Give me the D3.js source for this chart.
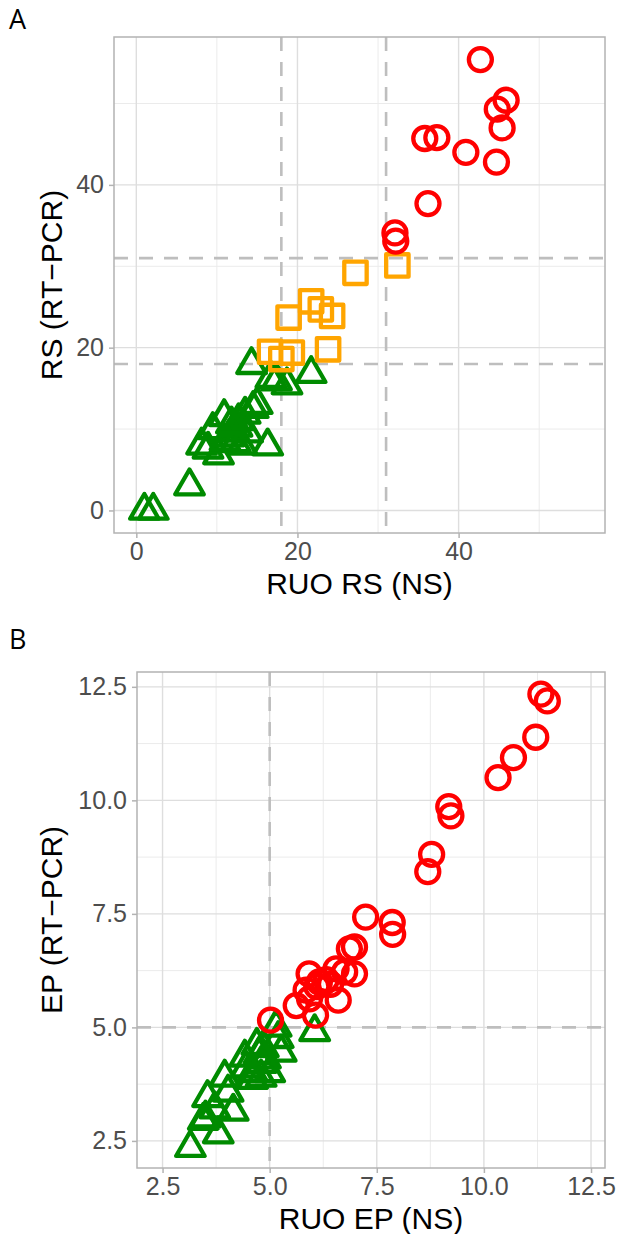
<!DOCTYPE html>
<html>
<head>
<meta charset="utf-8">
<script src="https://cdn.jsdelivr.net/npm/d3@7"></script>
<style>
  body { margin: 0; background: #fff; }
  text { font-family: "Liberation Sans", Arial, sans-serif; }
</style>
</head>
<body>
<script>
// ---- data: panel A (risk score) ----
var rsHigh = [[42.7,55.4],[45.9,50.4],[44.8,49.3],[45.4,47.0],[35.8,45.7],[37.3,45.8],
              [40.9,44.0],[44.7,42.8],[36.2,37.7],[32.1,34.1],[32.2,33.1]];
var rsMid = [[32.4,30.1],[27.2,29.2],[21.7,25.7],[22.9,24.7],[24.3,23.9],[18.9,23.7],
             [23.8,19.8],[19.3,19.4],[16.6,19.5],[18.0,18.6]];
var rsLow = [[1.0,0.0],[2.1,0.0],[6.6,3.0],[8.1,8.0],[8.9,7.5],[10.2,6.8],[9.5,9.9],
             [10.9,11.5],[12.7,11.0],[13.5,11.8],[14.5,12.5],[13.1,8.0],[16.3,7.9],
             [11.5,9.0],[12.0,9.6],[12.5,10.2],[11.0,8.5],[12.3,8.3],[13.8,9.5],
             [14.3,17.9],[16.7,16.2],[17.4,15.9],[18.7,15.4],[21.7,16.8],[15.0,13.0],[11.8,10.6]];
var rsLimits = [0, 55.4];
var rsTicks = [0, 20, 40];
var rsMinor = [10, 30, 50];
var rsCuts = [18, 31];

// ---- data: panel B (EP) ----
var epHigh = [[11.33,12.34],[11.48,12.19],[11.21,11.39],[10.69,10.94],[10.33,10.50],
              [9.18,9.86],[9.23,9.66],[8.78,8.81],[8.69,8.43],[7.24,7.43],[7.86,7.31],
              [7.87,7.05],[6.98,6.77],[6.86,6.73],[6.75,6.22],[6.98,6.18],[6.55,6.29],
              [6.60,5.60],[5.92,6.18],[6.32,6.05],[6.16,6.00],[5.85,5.82],[5.93,5.63],
              [5.62,5.48],[6.07,5.27],[5.02,5.16],[6.10,5.90],[6.42,5.95]];
var epLow = [[3.15,2.35],[3.80,2.65],[3.50,3.00],[3.72,3.20],[4.15,3.15],[3.55,3.45],
             [4.03,3.57],[3.95,3.90],[4.42,4.34],[4.45,4.10],[4.80,3.90],[4.75,4.40],
             [4.80,4.20],[4.60,4.00],[4.90,4.30],[5.27,4.45],[5.20,4.75],[5.15,5.00],
             [6.05,4.90],[4.70,4.60],[4.85,4.55],[4.60,3.85],[5.00,4.00],[3.45,2.95]];
var epLimits = [2.4, 12.33];
var epTicks = [2.5, 5, 7.5, 10, 12.5];
var epMinor = [3.75, 6.25, 8.75, 11.25];
var epCuts = [5];

var W = 619, H = 1234;
var svg = d3.select("body").append("svg").attr("width", W).attr("height", H);

function expand(l) { var d = (l[1] - l[0]) * 0.05; return [l[0] - d, l[1] + d]; }

function triPath(r) {
  var h = r * Math.sqrt(3) / 2;
  return "M0," + (-r) + "L" + h + "," + (r / 2) + "L" + (-h) + "," + (r / 2) + "Z";
}

function panel(opt) {
  var x = d3.scaleLinear().domain(expand(opt.lim)).range([opt.left, opt.right]);
  var y = d3.scaleLinear().domain(expand(opt.lim)).range([opt.bottom, opt.top]);
  var g = svg.append("g");

  // grid
  g.selectAll(".vmin").data(opt.minor).enter().append("line")
    .attr("x1", x).attr("x2", x).attr("y1", opt.top).attr("y2", opt.bottom)
    .attr("stroke", "#EBEBEB").attr("stroke-width", 1);
  g.selectAll(".hmin").data(opt.minor).enter().append("line")
    .attr("y1", y).attr("y2", y).attr("x1", opt.left).attr("x2", opt.right)
    .attr("stroke", "#EBEBEB").attr("stroke-width", 1);
  g.selectAll(".vmaj").data(opt.ticks).enter().append("line")
    .attr("x1", x).attr("x2", x).attr("y1", opt.top).attr("y2", opt.bottom)
    .attr("stroke", "#DEDEDE").attr("stroke-width", 1.4);
  g.selectAll(".hmaj").data(opt.ticks).enter().append("line")
    .attr("y1", y).attr("y2", y).attr("x1", opt.left).attr("x2", opt.right)
    .attr("stroke", "#DEDEDE").attr("stroke-width", 1.4);

  // cut-off lines
  g.selectAll(".vcut").data(opt.cuts).enter().append("line")
    .attr("x1", x).attr("x2", x).attr("y1", opt.top).attr("y2", opt.bottom)
    .attr("stroke", "#BEBEBE").attr("stroke-width", 2.6).attr("stroke-dasharray", "14,11");
  g.selectAll(".hcut").data(opt.cuts).enter().append("line")
    .attr("y1", y).attr("y2", y).attr("x1", opt.left).attr("x2", opt.right)
    .attr("stroke", "#BEBEBE").attr("stroke-width", 2.6).attr("stroke-dasharray", "14,11");

  // points
  var sw = 4.3;
  g.selectAll(".tri").data(opt.low).enter().append("path")
    .attr("d", triPath(16.5))
    .attr("transform", function(d) { return "translate(" + x(d[0]) + "," + y(d[1]) + ")"; })
    .attr("fill", "none").attr("stroke", "#008B00").attr("stroke-width", sw)
    .attr("stroke-linejoin", "round");
  if (opt.mid) {
    g.selectAll(".sq").data(opt.mid).enter().append("rect")
      .attr("x", function(d) { return x(d[0]) - 11.2; })
      .attr("y", function(d) { return y(d[1]) - 11.2; })
      .attr("width", 22.4).attr("height", 22.4)
      .attr("fill", "none").attr("stroke", "#FFA500").attr("stroke-width", sw)
      .attr("stroke-linejoin", "round");
  }
  g.selectAll(".circ").data(opt.high).enter().append("circle")
    .attr("cx", function(d) { return x(d[0]); })
    .attr("cy", function(d) { return y(d[1]); })
    .attr("r", 11.5)
    .attr("fill", "none").attr("stroke", "#FF0000").attr("stroke-width", sw);

  // border
  g.append("rect").attr("x", opt.left).attr("y", opt.top)
    .attr("width", opt.right - opt.left).attr("height", opt.bottom - opt.top)
    .attr("fill", "none").attr("stroke", "#B3B3B3").attr("stroke-width", 1.5);

  // axes
  var xAxis = d3.axisBottom(x).tickValues(opt.ticks).tickFormat(opt.fmt).tickSize(5).tickPadding(4);
  var yAxis = d3.axisLeft(y).tickValues(opt.ticks).tickFormat(opt.fmt).tickSize(5).tickPadding(5);
  var gx = g.append("g").attr("transform", "translate(0," + opt.bottom + ")").call(xAxis);
  var gy = g.append("g").attr("transform", "translate(" + opt.left + ",0)").call(yAxis);
  [gx, gy].forEach(function(a) {
    a.select(".domain").remove();
    a.selectAll(".tick line").attr("stroke", "#B3B3B3").attr("stroke-width", 1.5);
    a.selectAll(".tick text").attr("fill", "#4D4D4D").style("font-size", "25px")
      .style("font-family", "Liberation Sans, Arial, sans-serif");
  });

  // titles
  g.append("text").attr("x", (opt.left + opt.right) / 2).attr("y", opt.bottom + 61)
    .attr("text-anchor", "middle").style("font-size", "30px").attr("fill", "#000")
    .text(opt.xTitle);
  g.append("text")
    .attr("transform", "translate(62," + ((opt.top + opt.bottom) / 2) + ") rotate(-90)")
    .attr("text-anchor", "middle").style("font-size", "30px").attr("fill", "#000")
    .text(opt.yTitle);
  g.append("text").attr("x", 9).attr("y", opt.labelY)
    .attr("font-size", 27).style("font-size", "27px").style("font-family", "Open Sans, sans-serif")
    .attr("fill", "#000").text(opt.label);
}

panel({ left: 114, right: 605, top: 37, bottom: 533, lim: rsLimits,
        ticks: rsTicks, minor: rsMinor, cuts: rsCuts,
        high: rsHigh, mid: rsMid, low: rsLow, fmt: d3.format("d"),
        xTitle: "RUO RS (NS)", yTitle: "RS (RT\u2212PCR)", label: "A", labelY: 29 });

panel({ left: 137, right: 605, top: 672, bottom: 1168, lim: epLimits,
        ticks: epTicks, minor: epMinor, cuts: epCuts,
        high: epHigh, mid: null, low: epLow, fmt: d3.format(".1f"),
        xTitle: "RUO EP (NS)", yTitle: "EP (RT\u2212PCR)", label: "B", labelY: 649 });
</script>
</body>
</html>
